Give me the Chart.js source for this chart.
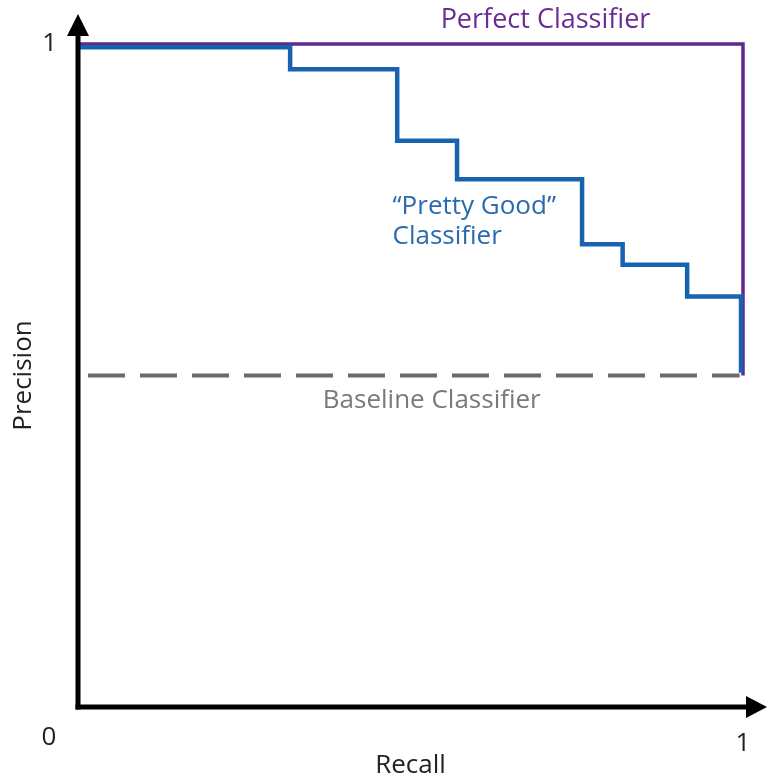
<!DOCTYPE html>
<html>
<head>
<meta charset="utf-8">
<script src="https://cdn.jsdelivr.net/npm/chart.js@4"></script>
<style>
  html, body { margin: 0; padding: 0; background: #fff; }
  #wrap { width: 767px; height: 780px; }
</style>
</head>
<body>
<div id="wrap"><canvas id="prChart" width="767" height="780"></canvas></div>
<script>
// Precision-recall curves
const goodRecall = [0, 0.319, 0.480, 0.570, 0.758, 0.819, 0.916, 0.997];
const goodPrecision = [0.995, 0.962, 0.854, 0.796, 0.698, 0.667, 0.619, 0.504];
const perfectRecall = [0, 1, 1];
const perfectPrecision = [1, 1, 0.5];
const baselineRecall = [0.015, 0.995];
const baselinePrecision = [0.5, 0.5];
const axisTicks = [0, 1];

const FONT = '"Open Sans", sans-serif';
const SIZE = 26;

function toPoints(xs, ys) {
    return xs.map((x, i) => ({ x: x, y: ys[i] }));
}

// axes with arrow heads + free text labels
const annotations = {
    id: 'annotations',
    afterDatasetsDraw(chart) {
        const ctx = chart.ctx;
        const xs = chart.scales.x;
        const ys = chart.scales.y;
        const x0 = xs.getPixelForValue(0);
        const y0 = ys.getPixelForValue(0);

        ctx.save();
        ctx.strokeStyle = '#000';
        ctx.fillStyle = '#000';
        ctx.lineWidth = 5;
        ctx.lineCap = 'butt';
        // y axis
        ctx.beginPath();
        ctx.moveTo(x0, y0 + 2.5);
        ctx.lineTo(x0, 32);
        ctx.stroke();
        ctx.beginPath();
        ctx.moveTo(x0, 14);
        ctx.lineTo(x0 - 11, 36);
        ctx.lineTo(x0 + 11, 36);
        ctx.closePath();
        ctx.fill();
        // x axis
        ctx.beginPath();
        ctx.moveTo(x0 - 2.5, y0);
        ctx.lineTo(750, y0);
        ctx.stroke();
        ctx.beginPath();
        ctx.moveTo(767, y0);
        ctx.lineTo(746, y0 - 11);
        ctx.lineTo(746, y0 + 11);
        ctx.closePath();
        ctx.fill();

        ctx.textAlign = 'center';
        ctx.textBaseline = 'middle';
        ctx.font = SIZE + 'px ' + FONT;
        ctx.fillStyle = '#222';
        ctx.fillText('0', x0 - 29, y0 + 31);

        ctx.fillStyle = '#6a2d96';
        ctx.font = (SIZE + 1) + 'px ' + FONT;
        ctx.fillText('Perfect Classifier', xs.getPixelForValue(0.703), 20);

        ctx.font = SIZE + 'px ' + FONT;
        ctx.fillStyle = '#7a7a7a';
        ctx.fillText('Baseline Classifier', xs.getPixelForValue(0.532), ys.getPixelForValue(0.462));

        ctx.textAlign = 'left';
        ctx.fillStyle = '#2a6aae';
        ctx.fillText('\u201CPretty Good\u201D', xs.getPixelForValue(0.473), ys.getPixelForValue(0.755));
        ctx.fillText('Classifier', xs.getPixelForValue(0.473), ys.getPixelForValue(0.710));
        ctx.restore();
    }
};

const ctx = document.getElementById('prChart').getContext('2d');
new Chart(ctx, {
    type: 'scatter',
    data: {
        datasets: [{
            label: 'Baseline Classifier',
            data: toPoints(baselineRecall, baselinePrecision),
            showLine: true,
            borderColor: '#6b6b6b',
            borderWidth: 4,
            borderDash: [37, 15],
            pointRadius: 0,
            clip: false
        }, {
            label: '"Pretty Good" Classifier',
            data: toPoints(goodRecall, goodPrecision),
            showLine: true,
            stepped: 'before',
            borderColor: '#1763b0',
            borderWidth: 4.5,
            pointRadius: 0,
            clip: false
        }, {
            label: 'Perfect Classifier',
            data: toPoints(perfectRecall, perfectPrecision),
            showLine: true,
            borderColor: '#5f2890',
            borderWidth: 3.5,
            pointRadius: 0,
            clip: false
        }]
    },
    options: {
        responsive: false,
        animation: false,
        layout: { padding: { top: 44, right: 24, left: 0, bottom: 0 } },
        plugins: {
            legend: { display: false },
            tooltip: { enabled: false }
        },
        scales: {
            x: {
                type: 'linear',
                min: 0,
                max: 1,
                afterFit(scale) { scale.height = 73; },
                afterBuildTicks(scale) { scale.ticks = axisTicks.slice(1).map(v => ({ value: v })); },
                grid: { display: false },
                border: { display: false },
                ticks: {
                    color: '#222',
                    padding: 13,
                    font: { family: FONT, size: SIZE }
                },
                title: {
                    display: true,
                    text: 'Recall',
                    color: '#222',
                    padding: { top: 0, bottom: 1 },
                    font: { family: FONT, size: SIZE, lineHeight: 1 }
                }
            },
            y: {
                type: 'linear',
                min: 0,
                max: 1,
                afterFit(scale) { scale.width = 78; },
                afterBuildTicks(scale) { scale.ticks = axisTicks.slice(1).map(v => ({ value: v })); },
                grid: { display: false },
                border: { display: false },
                ticks: {
                    color: '#222',
                    padding: 13,
                    font: { family: FONT, size: SIZE }
                },
                title: {
                    display: true,
                    text: 'Precision',
                    color: '#222',
                    padding: { top: 11, bottom: 0 },
                    font: { family: FONT, size: SIZE, lineHeight: 1 }
                }
            }
        }
    },
    plugins: [annotations]
});
</script>
</body>
</html>
